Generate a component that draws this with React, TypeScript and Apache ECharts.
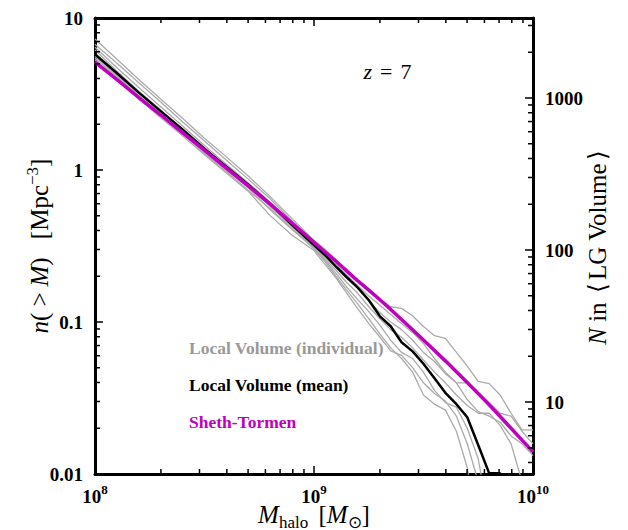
import React, { useEffect, useRef } from "react";
import * as echarts from "echarts";

// halo mass grid [M_sun]
const masses = [
  1.0e8, 1.26e8, 1.58e8, 2.0e8, 2.51e8, 3.16e8, 3.98e8, 5.01e8, 6.31e8, 7.94e8,
  1.0e9, 1.12e9, 1.26e9, 1.41e9, 1.58e9, 1.78e9, 2.0e9, 2.24e9, 2.51e9, 2.82e9,
  3.16e9, 3.55e9, 3.98e9, 4.47e9, 5.01e9, 5.62e9, 6.31e9, 7.08e9, 7.94e9, 8.91e9, 1.0e10,
];

// n(>M) [Mpc^-3]
const shethTormen = [
  5.12, 3.93, 3.01, 2.3, 1.76, 1.35, 1.03, 0.787, 0.596, 0.448,
  0.335, 0.29, 0.251, 0.217, 0.187, 0.162, 0.14, 0.121, 0.104, 0.0889,
  0.0762, 0.065, 0.0555, 0.0471, 0.04, 0.0338, 0.0285, 0.0239, 0.02, 0.0167, 0.014,
];

const lvMean = [
  5.78, 4.33, 3.24, 2.43, 1.85, 1.38, 1.05, 0.8, 0.598, 0.436,
  0.321, 0.277, 0.231, 0.197, 0.169, 0.139, 0.109, 0.0938, 0.0736, 0.0641,
  0.0531, 0.0427, 0.0342, 0.0288, 0.0236, 0.0155, 0.0101, 0.0101, 0.004, null, null,
];

const lv1 = [
  7.28, 5.35, 3.95, 2.92, 2.19, 1.62, 1.22, 0.912, 0.668, 0.479,
  0.344, 0.302, 0.257, 0.219, 0.186, 0.162, 0.141, 0.126, 0.123, 0.11,
  0.0933, 0.0813, 0.078, 0.0631, 0.0513, 0.0407, 0.0393, 0.0331, 0.0251, 0.0195, 0.0195,
];
const lv2 = [
  6.73, 5.04, 3.76, 2.79, 2.08, 1.55, 1.16, 0.871, 0.646, 0.462,
  0.331, 0.282, 0.24, 0.204, 0.174, 0.148, 0.129, 0.112, 0.0977, 0.0851,
  0.0724, 0.0575, 0.0468, 0.0398, 0.0309, 0.0257, 0.024, 0.0219, 0.0178, 0.0158, 0.0132,
];
const lv3 = [
  6.43, 4.7, 3.5, 2.6, 1.95, 1.45, 1.09, 0.822, 0.614, 0.449,
  0.316, 0.269, 0.234, 0.2, 0.17, 0.138, 0.115, 0.1, 0.0891, 0.0759,
  0.0631, 0.055, 0.0457, 0.0398, 0.0398, 0.0347, 0.0295, 0.0251, 0.024, 0.0191, 0.0158,
];
const lv4 = [
  6.15, 4.47, 3.31, 2.47, 1.85, 1.37, 1.04, 0.776, 0.575, 0.422,
  0.309, 0.263, 0.219, 0.182, 0.155, 0.126, 0.105, 0.0891, 0.0794, 0.0676,
  0.0562, 0.0468, 0.0398, 0.0331, 0.0282, 0.0251, 0.0251, 0.0209, 0.0158, 0.00891, 0.00316,
];
const lv5 = [
  5.61, 4.15, 3.1, 2.32, 1.76, 1.32, 1.0, 0.762, 0.547, 0.406,
  0.309, 0.257, 0.209, 0.17, 0.141, 0.117, 0.0955, 0.0759, 0.0631, 0.0575,
  0.0468, 0.0355, 0.0295, 0.0275, 0.02, 0.0126, 0.00501, null, null, null, null,
];
const lv6 = [
  5.45, 4.04, 3.04, 2.29, 1.73, 1.29, 0.977, 0.733, 0.556, 0.409,
  0.302, 0.251, 0.2, 0.162, 0.132, 0.105, 0.0832, 0.0676, 0.0575, 0.0468,
  0.0331, 0.0288, 0.0263, 0.0191, 0.011, 0.00398, null, null, null, null, null,
];
const lv7 = [
  5.31, 3.89, 2.94, 2.21, 1.68, 1.26, 0.955, 0.724, 0.501, 0.372,
  0.295, 0.24, 0.195, 0.155, 0.123, 0.0977, 0.0794, 0.0646, 0.0603, 0.0501,
  0.0398, 0.0339, 0.0302, 0.024, 0.0158, 0.00891, 0.00316, null, null, null, null,
];
const individuals = [lv1, lv2, lv3, lv4, lv5, lv6, lv7];

const legendNames = ["Local Volume (individual)", "Local Volume (mean)", "Sheth-Tormen"];
const redshiftLabel = "7";

// axis ranges and ticks
const xMin = 1e8;
const xMax = 1e10;
const yMin = 0.01;
const yMax = 10;
const lgVolume = 336; // Mpc^3, converts n to N
const minorMantissas = [2, 3, 4, 5, 6, 7, 8, 9];
const xDecades = [1e8, 1e9];
const yDecades = [0.01, 0.1, 1];
const nDecades = [1, 10, 100, 1000];

const SERIF = "Liberation Serif";
const GRAY = "#aaaaaa";
const MAGENTA = "#bf00bf";

export default function App() {
  const ref = useRef<HTMLDivElement>(null);

  useEffect(() => {
    if (!ref.current) return;
    const chart = echarts.init(ref.current, null, { renderer: "svg" });

    const pair = (arr: (number | null)[]) => masses.map((m, i) => [m, arr[i]]);

    const axisLine = { show: true, lineStyle: { color: "#000", width: 3 } };
    const axisTick = { show: true, inside: true, length: 8, lineStyle: { color: "#000", width: 1.5 } };
    const tickFont = { fontFamily: SERIF, fontWeight: "bold" as const, fontSize: 19, color: "#000" };
    const NF = 25;
    const reg = { fontFamily: SERIF, fontSize: NF, color: "#000", fontStyle: "normal" as const };
    const ital = { ...reg, fontStyle: "italic" as const };
    const small = { ...reg, fontSize: 17 };

    const series: any[] = individuals.map((arr) => ({
      name: legendNames[0],
      type: "line",
      data: pair(arr),
      showSymbol: false,
      symbol: "none",
      lineStyle: { color: GRAY, width: 1.3 },
      itemStyle: { color: GRAY },
      z: 2,
    }));
    series.push({
      name: legendNames[1],
      type: "line",
      data: pair(lvMean),
      showSymbol: false,
      symbol: "none",
      lineStyle: { color: "#000", width: 2.5 },
      itemStyle: { color: "#000" },
      z: 3,
    });
    series.push({
      name: legendNames[2],
      type: "line",
      data: pair(shethTormen),
      showSymbol: false,
      symbol: "none",
      lineStyle: { color: MAGENTA, width: 3.5 },
      itemStyle: { color: MAGENTA },
      z: 4,
    });

    const legendFont = { fontFamily: SERIF, fontWeight: "bold" as const, fontSize: 17.5 };

    const option: any = {
      animation: false,
      backgroundColor: "#fff",
      grid: { left: 95, right: 95, top: 18, bottom: 56, containLabel: false, outerBoundsMode: "none" },
      legend: {
        orient: "vertical",
        left: 179,
        top: 334,
        itemGap: 19,
        icon: "none",
        itemWidth: 0,
        itemHeight: 0,
        selectedMode: false,
        textStyle: legendFont,
        data: [
          { name: legendNames[0], textStyle: { ...legendFont, color: "#999999" } },
          { name: legendNames[1], textStyle: { ...legendFont, color: "#000" } },
          { name: legendNames[2], textStyle: { ...legendFont, color: MAGENTA } },
        ],
      },
      xAxis: [
        {
          type: "log",
          logBase: 10,
          min: xMin,
          max: xMax,
          position: "bottom",
          axisLine,
          axisTick,
          splitLine: { show: false },
          axisLabel: {
            ...tickFont,
            margin: 8,
            formatter: (v: number) => `{b|10}{e|${Math.round(Math.log10(v))}}`,
            rich: {
              b: { ...tickFont, lineHeight: 28 },
              e: { ...tickFont, fontSize: 13, lineHeight: 14, padding: [0, 0, 14, 0] },
            },
          },
          name: "{i|M}{s|halo}{g| }{r|[}{i|M}{s|⊙}{r|]}",
          nameLocation: "middle",
          nameMoveOverlap: false,
          nameGap: 24,
          nameTextStyle: {
            ...reg,
            rich: {
              i: { ...ital, lineHeight: 32 },
              r: { ...reg, lineHeight: 32 },
              g: { ...reg, lineHeight: 32, padding: [0, 2, 0, 2] },
              s: { ...small, lineHeight: 16, padding: [16, 0, 0, 0] },
            },
          },
        },
        {
          type: "log",
          logBase: 10,
          min: xMin,
          max: xMax,
          position: "top",
          axisLine,
          axisTick,
          axisLabel: { show: false },
          splitLine: { show: false },
        },
      ],
      yAxis: [
        {
          type: "log",
          logBase: 10,
          min: yMin,
          max: yMax,
          position: "left",
          axisLine,
          axisTick,
          splitLine: { show: false },
          axisLabel: {
            ...tickFont,
            margin: 12,
            formatter: (v: number) => String(Number(v.toPrecision(1))),
          },
          name: "{i|n}{r|(}{g|>}{i|M}{r|)}{g| }{r|[Mpc}{e|−3}{r|]}",
          nameLocation: "middle",
          nameRotate: 90,
          nameMoveOverlap: false,
          nameGap: 40,
          nameTextStyle: {
            ...reg,
            rich: {
              i: { ...ital, lineHeight: 32 },
              r: { ...reg, lineHeight: 32 },
              g: { ...reg, lineHeight: 32, padding: [0, 6, 0, 6] },
              e: { ...small, lineHeight: 16, padding: [0, 0, 14, 0] },
            },
          },
        },
        {
          type: "log",
          logBase: 10,
          min: yMin * lgVolume,
          max: yMax * lgVolume,
          position: "right",
          axisLine,
          axisTick,
          splitLine: { show: false },
          axisLabel: {
            ...tickFont,
            margin: 12,
            showMinLabel: false,
            showMaxLabel: false,
            formatter: (v: number) => String(Math.round(v)),
          },
          name: "{i|N}{r| in }{g|⟨}{r|LG Volume}{g|⟩}",
          nameLocation: "middle",
          nameRotate: 90,
          nameMoveOverlap: false,
          nameGap: 49,
          nameTextStyle: {
            ...reg,
            rich: {
              i: { ...ital, lineHeight: 30 },
              r: { ...reg, lineHeight: 30 },
              g: { ...reg, lineHeight: 30, padding: [0, 3, 0, 3] },
            },
          },
        },
      ],
      series,
    };

    chart.setOption(option);

    const px = (v: number) => chart.convertToPixel({ xAxisIndex: 0 } as any, v) as number;
    const pyL = (v: number) => chart.convertToPixel({ yAxisIndex: 0 } as any, v) as number;
    const pyR = (v: number) => chart.convertToPixel({ yAxisIndex: 1 } as any, v) as number;
    const left = px(xMin);
    const right = px(xMax);
    const top = pyL(yMax);
    const bottom = pyL(yMin);
    const minorLen = 5;
    const els: any[] = [];
    const tick = (x1: number, y1: number, x2: number, y2: number) =>
      els.push({
        type: "line",
        silent: true,
        z: 10,
        shape: { x1, y1, x2, y2 },
        style: { stroke: "#000", lineWidth: 1.5 },
      });
    xDecades.forEach((d) =>
      minorMantissas.forEach((m) => {
        const x = px(m * d);
        tick(x, bottom, x, bottom - minorLen);
        tick(x, top, x, top + minorLen);
      })
    );
    yDecades.forEach((d) =>
      minorMantissas.forEach((m) => {
        const y = pyL(m * d);
        tick(left, y, left + minorLen, y);
      })
    );
    nDecades.forEach((d) =>
      minorMantissas.forEach((m) => {
        const v = m * d;
        if (v <= yMin * lgVolume || v >= yMax * lgVolume) return;
        const y = pyR(v);
        tick(right, y, right - minorLen, y);
      })
    );
    const zFont = { fontFamily: SERIF, fontSize: 22, fill: "#000" };
    els.push({
      type: "text",
      x: left + (right - left) * 0.613,
      y: top + 42,
      style: {
        text: `{i|z}{e|=}{r|${redshiftLabel}}`,
        ...zFont,
        rich: {
          i: { ...zFont, fontStyle: "italic" },
          e: { ...zFont, padding: [0, 8, 0, 8] },
          r: { ...zFont },
        },
      },
    });
    chart.setOption({ graphic: { elements: els } });

    return () => chart.dispose();
  }, []);

  return (
    <div
      ref={ref}
      style={{ position: "absolute", left: 0, top: 0, width: 628, height: 530, background: "#fff" }}
    />
  );
}
